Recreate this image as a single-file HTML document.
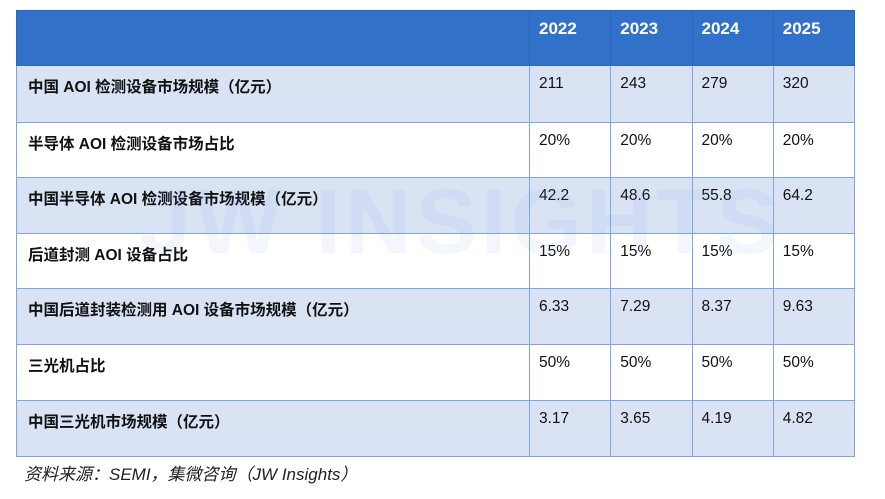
<!DOCTYPE html>
<html><head><meta charset="utf-8"><style>
body{margin:0;width:885px;height:499px;background:#fff;position:relative;overflow:hidden;font-family:"Liberation Sans","Noto Sans CJK SC",sans-serif;}
table{position:absolute;left:16px;top:10px;border-collapse:collapse;width:839px;}
td{border:1.5px solid #7ea7e0;height:53px;vertical-align:top;padding:9px 0 0 9px;font-size:15.5px;color:#111;box-sizing:border-box;}
tr.h td{background:#3271c9;color:#fff;font-weight:bold;font-size:17px;height:55px;padding-top:8px;border-color:#2a65c0;}
tr.a td{background:#d9e3f4;}
tr.b td{background:#fff;}
td.l{font-weight:bold;width:513px;padding-left:11px;}
.wm{position:absolute;left:140px;top:170px;font-size:92px;font-weight:bold;color:rgba(120,160,230,0.09);letter-spacing:4px;}
.f{position:absolute;left:24px;top:460px;font-size:17px;font-style:italic;color:#222;}
</style></head><body>
<table>
<tr class="h"><td class="l"></td><td>2022</td><td>2023</td><td>2024</td><td>2025</td></tr>
<tr class="a" style="height:57px"><td class="l">中国 AOI 检测设备市场规模（亿元）</td><td>211</td><td>243</td><td>279</td><td>320</td></tr>
<tr class="b" style="height:55px"><td class="l">半导体 AOI 检测设备市场占比</td><td>20%</td><td>20%</td><td>20%</td><td>20%</td></tr>
<tr class="a" style="height:56px"><td class="l">中国半导体 AOI 检测设备市场规模（亿元）</td><td>42.2</td><td>48.6</td><td>55.8</td><td>64.2</td></tr>
<tr class="b" style="height:55px"><td class="l">后道封测 AOI 设备占比</td><td>15%</td><td>15%</td><td>15%</td><td>15%</td></tr>
<tr class="a" style="height:56px"><td class="l">中国后道封装检测用 AOI 设备市场规模（亿元）</td><td>6.33</td><td>7.29</td><td>8.37</td><td>9.63</td></tr>
<tr class="b" style="height:56px"><td class="l">三光机占比</td><td>50%</td><td>50%</td><td>50%</td><td>50%</td></tr>
<tr class="a" style="height:56px"><td class="l">中国三光机市场规模（亿元）</td><td>3.17</td><td>3.65</td><td>4.19</td><td>4.82</td></tr>
</table>
<div class="wm">JW INSIGHTS</div>
<div class="f">资料来源：SEMI，集微咨询（JW Insights）</div>
</body></html>
